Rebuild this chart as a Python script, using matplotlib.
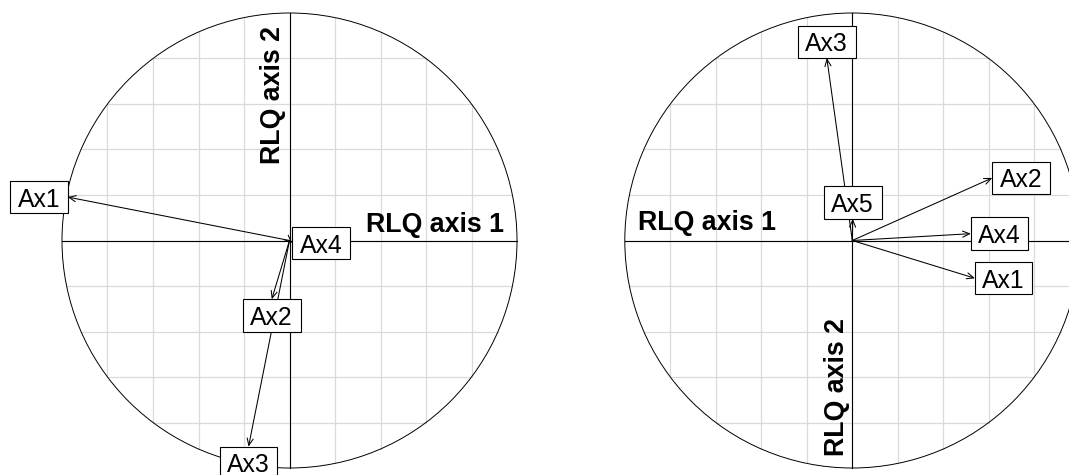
import matplotlib
matplotlib.use("Agg")
import matplotlib.pyplot as plt
from matplotlib.patches import Circle, Rectangle
import numpy as np

plt.rcParams['font.family'] = ['Liberation Sans', 'DejaVu Sans']

# RLQ axes projected on the unit circle
left_labels = ['Ax1', 'Ax2', 'Ax3', 'Ax4']
left_x = [-0.975, -0.078, -0.180, 0.012]
left_y = [0.191, -0.258, -0.906, -0.011]

right_labels = ['Ax1', 'Ax2', 'Ax3', 'Ax4', 'Ax5']
right_x = [0.539, 0.615, -0.112, 0.521, 0.002]
right_y = [-0.166, 0.275, 0.802, 0.030, 0.095]

axis_names = ['RLQ axis 1', 'RLQ axis 2']

W, H = 1069, 475
R = 227.5                # pixels for a unit radius
BOX_W = 57.5 / R         # label box width (data units)
BOX_YH = 16.2 / R        # label box half height
PT = 72.0 / 100          # points per pixel

fig = plt.figure(figsize=(W / 100, H / 100), dpi=100)


def make_axes(x0, width, cx, cy):
    # axes spanning [x0, x0+width] px, unit circle centred on (cx, cy) px
    ax = fig.add_axes([x0 / W, 0, width / W, 1])
    ax.set_xlim((x0 - cx) / R, (x0 + width - cx) / R)
    ax.set_ylim(-(H - cy) / R, cy / R)
    ax.axis('off')
    return ax


def corcircle(ax, xs, ys, labels):
    # grid every 0.2, kept inside the circle
    for v in np.linspace(-0.8, 0.8, 9):
        h = np.sqrt(1 - v ** 2)
        ax.plot([v, v], [-h, h], color='#dadada', lw=0.9, zorder=1)
        ax.plot([-h, h], [v, v], color='#dadada', lw=0.9, zorder=1)
    ax.plot([-1, 1], [0, 0], color='black', lw=0.8, zorder=2)
    ax.plot([0, 0], [-1, 1], color='black', lw=0.8, zorder=2)
    ax.add_patch(Circle((0, 0), 1, fill=False, ec='black', lw=0.7, zorder=2))

    for x, y in zip(xs, ys):
        ax.annotate('', xy=(x, y), xytext=(0, 0),
                    arrowprops=dict(arrowstyle='->,head_length=0.5,head_width=0.22',
                                    lw=0.75, color='black', shrinkA=0, shrinkB=0,
                                    mutation_scale=10),
                    zorder=3)

    # label boxes pushed away from the origin (ade4 style)
    for x, y, lab in zip(xs, ys, labels):
        if x > y and x > -y:
            bx, by = x + BOX_W / 2, y
        elif x > y:
            bx, by = x, y - BOX_YH
        elif x <= -y:
            bx, by = x - BOX_W / 2, y
        else:
            bx, by = x, y + BOX_YH
        ax.add_patch(Rectangle((bx - BOX_W / 2, by - BOX_YH), BOX_W, 2 * BOX_YH,
                               fc='white', ec='black', lw=0.8, zorder=4))
        ax.text(bx, by, lab, ha='center', va='center_baseline',
                fontsize=17.8, zorder=5)


ax1 = make_axes(0, 535, 289.5, 240.5)
corcircle(ax1, left_x, left_y, left_labels)
ax1.annotate(axis_names[0], xy=(1, 0), xytext=(-13 * PT, 8 * PT),
             textcoords='offset points', ha='right', va='baseline',
             fontsize=19.3, fontweight='bold', zorder=6)
ax1.annotate(axis_names[1], xy=(0, 1), xytext=(-9 * PT, -13 * PT),
             textcoords='offset points', ha='right', va='baseline',
             rotation=90, rotation_mode='anchor',
             fontsize=19.3, fontweight='bold', zorder=6)

ax2 = make_axes(535, 534, 852.3, 240.5)
corcircle(ax2, right_x, right_y, right_labels)
ax2.annotate(axis_names[0], xy=(-1, 0), xytext=(13 * PT, 10 * PT),
             textcoords='offset points', ha='left', va='baseline',
             fontsize=19.3, fontweight='bold', zorder=6)
ax2.annotate(axis_names[1], xy=(0, -1), xytext=(-8.5 * PT, 12 * PT),
             textcoords='offset points', ha='left', va='baseline',
             rotation=90, rotation_mode='anchor',
             fontsize=19.3, fontweight='bold', zorder=6)

fig.savefig('out.png', dpi=100)
